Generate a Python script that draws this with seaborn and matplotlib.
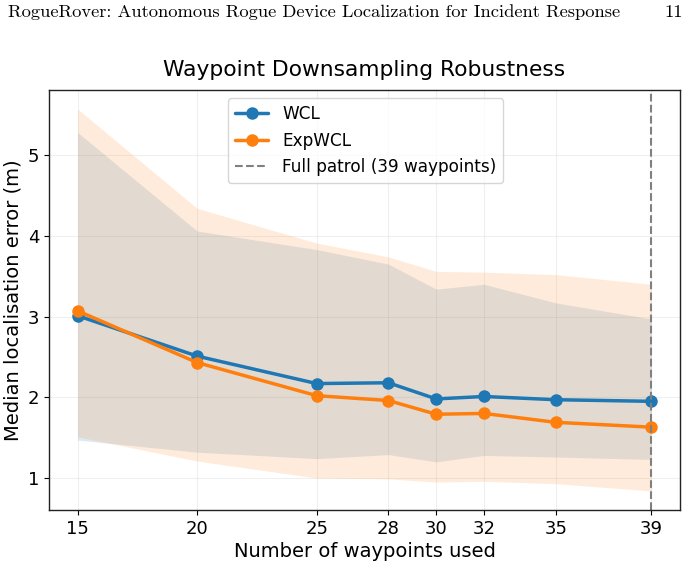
import matplotlib
matplotlib.use("Agg")
import matplotlib.pyplot as plt
import numpy as np
import pandas as pd
import seaborn as sns

# waypoint counts used
waypoints = [15, 20, 25, 28, 30, 32, 35, 39]

# median localisation error (m)
wcl_median = [3.01, 2.51, 2.17, 2.18, 1.98, 2.01, 1.97, 1.95]
expwcl_median = [3.07, 2.43, 2.02, 1.96, 1.79, 1.80, 1.69, 1.63]

# spread bands
wcl_low = [1.47, 1.32, 1.24, 1.29, 1.20, 1.28, 1.26, 1.23]
wcl_high = [5.28, 4.06, 3.83, 3.65, 3.34, 3.40, 3.17, 2.97]
expwcl_low = [1.51, 1.21, 1.00, 0.99, 0.95, 0.96, 0.93, 0.84]
expwcl_high = [5.57, 4.34, 3.91, 3.74, 3.56, 3.55, 3.52, 3.40]

full_patrol = 39

df = pd.DataFrame({
    'waypoints': waypoints * 2,
    'error': wcl_median + expwcl_median,
    'method': ['WCL'] * len(waypoints) + ['ExpWCL'] * len(waypoints),
})

sns.set_style('ticks')
plt.rcParams['font.family'] = ['DejaVu Sans']
plt.rcParams['text.color'] = 'black'
plt.rcParams['axes.labelcolor'] = 'black'
plt.rcParams['xtick.color'] = 'black'
plt.rcParams['ytick.color'] = 'black'

fig = plt.figure(figsize=(6.93, 5.65), dpi=100)
ax = fig.add_axes([0.0707, 0.0973, 0.9105, 0.7434])

ax.fill_between(waypoints, wcl_low, wcl_high, color='C0', alpha=0.15, linewidth=0)
ax.fill_between(waypoints, expwcl_low, expwcl_high, color='C1', alpha=0.15, linewidth=0)

sns.lineplot(data=df, x='waypoints', y='error', hue='method',
             palette=['C0', 'C1'], marker='o', markersize=9, linewidth=2.5,
             markeredgewidth=0, ax=ax)

ax.axvline(full_patrol, color='gray', linestyle='--', linewidth=1.5,
           label='Full patrol (39 waypoints)')

ax.set_xticks(waypoints)
ax.set_yticks([1, 2, 3, 4, 5])
ax.tick_params(labelsize=13)
ax.grid(True, alpha=0.3)
for s in ax.spines.values():
    s.set_color('#222222')
    s.set_linewidth(1.0)

ax.set_xlabel('Number of waypoints used', fontsize=14, labelpad=3)
ax.set_ylabel('Median localisation error (m)', fontsize=14)
ax.set_title('Waypoint Downsampling Robustness', fontsize=15.7, pad=10)

handles, labels = ax.get_legend_handles_labels()
ax.legend(handles, labels, loc='upper left', bbox_to_anchor=(0.27, 1.0),
          fontsize=12.2, frameon=True, title=None)

# page header from the paper
fig.text(0.012, 0.978, 'RogueRover: Autonomous Rogue Device Localization for Incident Response',
         family='cmr10', fontsize=13.3, va='center', ha='left')
fig.text(0.985, 0.978, '11', family='cmr10', fontsize=13.3, va='center', ha='right')

fig.savefig('out.png', dpi=100)
